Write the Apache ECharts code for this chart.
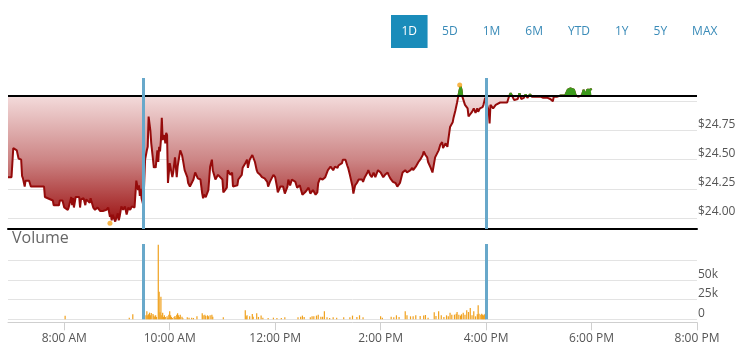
<!DOCTYPE html>
<html><head><meta charset="utf-8">
<script src="https://cdn.jsdelivr.net/npm/echarts@6/dist/echarts.min.js"></script>
<style>html,body{margin:0;padding:0;background:#fff}#c{width:747px;height:358px}</style>
</head><body><div id="c"></div>
<script>
// ---------- data ----------
const rangeButtons = ['1D','5D','1M','6M','YTD','1Y','5Y','MAX'];
const selectedRange = '1D';
const xRange = ['06:56','20:00'];
const xTickTimes = ['08:00','10:00','12:00','14:00','16:00','18:00','20:00'];
const priceRange = [23.906, 25.2];
const priceGridTicks = [24.00, 24.25, 24.50, 24.75, 25.00];
const priceLabelTicks = [24.00, 24.25, 24.50, 24.75];
const volumeRange = [0, 96000];
const volumeGridTicks = [0, 25000, 50000, 75000];
const volumeLabelTicks = [0, 25000, 50000];
const previousClose = 25.045;
const sessionMarks = ['09:30','16:00'];
const dayExtremes = [['08:52', 23.955], ['15:30', 25.14]];

const pricePoints = [
['06:56',24.35],['07:00',24.35],['07:02',24.60],['07:04',24.60],['07:06',24.58],['07:08',24.51],['07:11',24.50],['07:12',24.36],['07:13',24.34],['07:15',24.27],['07:16',24.32],['07:20',24.32],['07:22',24.27],['07:37',24.27],['07:38',24.18],['07:47',24.15],['07:48',24.11],['07:54',24.11],['07:55',24.15],['07:58',24.15],
['08:00',24.09],['08:04',24.07],['08:05',24.09],['08:08',24.18],['08:09',24.11],['08:10',24.17],['08:11',24.09],['08:13',24.18],['08:17',24.18],['08:18',24.09],['08:19',24.16],['08:22',24.17],['08:24',24.11],['08:25',24.16],['08:27',24.15],['08:29',24.13],['08:30',24.17],['08:33',24.09],['08:35',24.07],['08:38',24.09],['08:41',24.06],['08:42',24.07],['08:44',24.06],['08:48',24.07],['08:50',24.09],['08:52',24.01],['08:53',24.03],['08:54',23.98],['08:55',24.03],['08:58',23.97],
['09:00',23.97],['09:01',24.04],['09:02',23.98],['09:03',24.01],['09:05',24.10],['09:07',24.07],['09:09',24.10],['09:11',24.03],['09:13',24.09],['09:15',24.07],['09:17',24.10],['09:19',24.10],['09:20',24.09],['09:22',24.32],['09:24',24.24],['09:25',24.28],['09:26',24.19],['09:27',24.25],['09:28',24.17],['09:30',24.11],
['09:32',24.50],['09:34',24.58],['09:35',24.61],['09:36',24.87],['09:38',24.75],['09:39',24.64],['09:40',24.63],['09:41',24.50],['09:42',24.43],['09:43',24.45],['09:44',24.43],['09:46',24.58],['09:47',24.48],['09:48',24.61],['09:49',24.57],['09:50',24.67],['09:51',24.86],['09:52',24.67],['09:54',24.71],['09:55',24.64],['09:56',24.73],['09:57',24.71],['09:58',24.30],
['10:00',24.47],['10:03',24.35],['10:04',24.39],['10:06',24.52],['10:08',24.35],['10:09',24.44],['10:12',24.58],['10:14',24.54],['10:15',24.50],['10:17',24.41],['10:20',24.35],['10:21',24.30],['10:23',24.27],['10:25',24.28],['10:27',24.33],['10:29',24.39],['10:31',24.39],['10:32',24.34],['10:35',24.33],['10:37',24.21],['10:38',24.17],['10:39',24.20],['10:41',24.18],['10:44',24.24],['10:46',24.44],['10:48',24.50],['10:49',24.41],['10:52',24.33],['10:54',24.33],['10:55',24.37],['10:57',24.37],
['11:00',24.33],['11:01',24.22],['11:03',24.24],['11:05',24.26],['11:06',24.41],['11:09',24.37],['11:11',24.39],['11:12',24.27],['11:14',24.26],['11:17',24.28],['11:18',24.33],['11:20',24.34],['11:22',24.37],['11:23',24.43],['11:26',24.47],['11:28',24.50],['11:29',24.43],['11:31',24.50],['11:34',24.54],['11:35',24.54],['11:37',24.48],['11:39',24.41],['11:40',24.39],['11:43',24.37],['11:45',24.35],['11:46',24.35],['11:48',24.34],['11:51',24.31],['11:52',24.27],['11:54',24.31],['11:56',24.34],['11:58',24.37],
['12:00',24.35],['12:02',24.27],['12:03',24.22],['12:06',24.27],['12:08',24.26],['12:09',24.27],['12:11',24.21],['12:14',24.27],['12:15',24.33],['12:17',24.28],['12:19',24.33],['12:20',24.34],['12:23',24.31],['12:25',24.26],['12:26',24.27],['12:28',24.28],['12:31',24.20],['12:32',24.21],['12:34',24.22],['12:36',24.24],['12:38',24.26],['12:40',24.21],['12:42',24.21],['12:43',24.24],['12:46',24.20],['12:48',24.22],['12:49',24.30],['12:51',24.34],['12:54',24.33],['12:55',24.34],['12:57',24.35],['12:59',24.35],
['13:00',24.41],['13:03',24.44],['13:05',24.43],['13:06',24.41],['13:08',24.44],['13:11',24.43],['13:12',24.45],['13:14',24.44],['13:16',24.47],['13:17',24.50],['13:20',24.50],['13:22',24.45],['13:23',24.43],['13:25',24.37],['13:28',24.27],['13:29',24.21],['13:31',24.28],['13:33',24.30],['13:35',24.33],['13:37',24.34],['13:39',24.33],['13:40',24.31],['13:42',24.35],['13:45',24.39],['13:46',24.41],['13:48',24.37],['13:50',24.35],['13:52',24.39],['13:54',24.35],['13:56',24.39],['13:57',24.41],
['14:00',24.39],['14:02',24.39],['14:03',24.35],['14:05',24.37],['14:08',24.39],['14:09',24.37],['14:11',24.34],['14:13',24.33],['14:14',24.31],['14:17',24.30],['14:19',24.27],['14:20',24.26],['14:22',24.30],['14:25',24.39],['14:26',24.39],['14:28',24.41],['14:30',24.39],['14:32',24.39],['14:34',24.41],['14:36',24.43],['14:37',24.41],['14:40',24.44],['14:42',24.45],['14:43',24.48],['14:45',24.50],['14:48',24.54],['14:49',24.57],['14:51',24.54],['14:53',24.52],['14:54',24.48],['14:57',24.43],['14:59',24.39],
['15:00',24.39],['15:02',24.52],['15:06',24.58],['15:08',24.63],['15:10',24.65],['15:11',24.60],['15:14',24.64],['15:16',24.61],['15:17',24.67],['15:19',24.78],['15:22',24.82],['15:23',24.86],['15:25',24.92],['15:27',24.99],['15:28',25.03],['15:30',25.10],['15:31',25.13],['15:32',25.10],['15:33',25.04],['15:34',25.03],['15:36',24.97],['15:39',24.94],['15:40',24.87],['15:42',24.86],['15:44',24.91],['15:46',24.94],['15:48',24.90],['15:50',24.94],['15:51',24.91],['15:53',24.94],['15:56',24.95],['15:57',24.97],['15:59',25.03],
['16:01',24.97],['16:03',24.92],['16:04',24.81],['16:05',24.97],['16:08',24.94],['16:11',24.97],['16:13',24.97],['16:16',24.99],['16:20',24.99],['16:24',24.99],['16:26',25.04],['16:28',25.07],['16:30',25.04],['16:32',25.01],['16:36',25.02],['16:38',25.07],['16:40',25.02],['16:43',25.03],['16:45',25.06],['16:47',25.03],['16:50',25.06],['16:52',25.04],['16:56',25.04],
['17:02',25.04],['17:05',25.03],['17:10',25.03],['17:13',25.02],['17:16',25.00],['17:17',25.04],['17:21',25.04],['17:25',25.05],['17:30',25.05],['17:33',25.10],['17:36',25.11],['17:40',25.10],['17:42',25.05],['17:45',25.04],['17:49',25.05],['17:51',25.10],['17:53',25.05],['17:55',25.10],['17:59',25.10],['18:00',25.11]
];

const volumePoints = [
['08:01',4500],['09:14',2000],['09:18',6400],
['09:33',5100],['09:34',10200],['09:35',5100],['09:36',6400],['09:37',8500],['09:38',5100],['09:39',7900],['09:41',6800],['09:42',4700],['09:43',3400],['09:44',5100],['09:45',3000],['09:47',95000],['09:48',35000],['09:49',9000],['09:50',28700],['09:51',5100],['09:52',8500],['09:53',3000],['09:54',5100],['09:55',3000],['09:57',3800],['09:58',1700],['09:59',5900],
['10:00',10200],['10:01',5100],['10:02',3000],['10:03',1700],['10:05',3000],['10:06',4200],['10:07',1700],['10:08',5900],['10:09',7600],['10:10',5100],['10:11',3000],['10:12',5900],['10:14',3400],['10:15',1300],['10:20',2500],['10:22',2100],['10:25',2100],['10:27',1700],['10:31',3800],['10:37',7600],['10:38',5100],['10:40',5900],['10:41',4200],['10:43',5100],['10:44',3800],['10:46',5100],['10:48',5900],['10:49',3400],
['11:01',2500],['11:26',11400],['11:27',3800],['11:28',5100],['11:31',3800],['11:34',6800],['11:35',3400],['11:39',7600],['11:41',3000],['11:44',4700],['11:46',2100],['11:52',1700],['11:58',2100],
['12:02',1700],['12:07',1700],['12:11',2500],['12:26',2500],['12:29',3400],['12:31',4700],['12:33',3000],['12:40',2500],['12:42',3800],['12:44',3800],['12:47',4700],['12:49',5900],['12:52',3400],['12:54',3400],['12:56',10200],['12:59',2500],
['13:02',1700],['13:06',2500],['13:10',2100],['13:18',2500],['13:25',2500],['13:28',4700],['13:33',3000],['13:36',5100],['13:40',2500],
['14:00',3800],['14:02',2100],['14:12',3400],['14:15',2500],['14:18',5100],['14:21',3000],['14:28',10200],['14:30',5100],['14:34',3800],['14:37',3800],['14:40',5100],['14:45',4200],['14:49',4700],['14:51',5500],['14:54',2100],
['15:01',8900],['15:03',4200],['15:06',10200],['15:09',5100],['15:12',3000],['15:15',5100],['15:17',3800],['15:19',8500],['15:21',5900],['15:24',5900],['15:26',7200],['15:27',9300],['15:29',5900],['15:31',4700],['15:32',6400],['15:34',8500],['15:36',5900],['15:38',11400],['15:40',9300],['15:42',14400],['15:44',5100],['15:46',10200],['15:48',3800],['15:50',6400],['15:51',17800],['15:52',7200],['15:54',5900],['15:55',7200],['15:56',5900],['15:57',5000],['15:58',6000],['15:59',7000]
];

// ---------- helpers ----------
const toMin = s => { const p = s.split(':').map(Number); return p[0] * 60 + p[1]; };
const fmtTime = v => {
  const h = Math.floor(v / 60), m = Math.round(v % 60);
  const ap = h >= 12 ? 'PM' : 'AM';
  let hh = h % 12; if (hh === 0) hh = 12;
  return hh + ':' + String(m).padStart(2, '0') + ' ' + ap;
};
const FONT = '"Open Sans", "DejaVu Sans", sans-serif';
const priceSeriesData = pricePoints.map(p => [toMin(p[0]), p[1]]);
const volumeSeriesData = volumePoints.map(p => [toMin(p[0]), p[1]]);

// ---------- range buttons (flow layout) ----------
const ctx = document.createElement('canvas').getContext('2d');
ctx.font = '12px "Open Sans"';
const btnGraphics = [];
let bx = 391;
rangeButtons.forEach(b => {
  const w = ctx.measureText(b).width + 21;
  if (b === selectedRange) {
    btnGraphics.push({type: 'rect', left: bx, top: 15, shape: {width: w, height: 33}, style: {fill: '#1a8cba'}});
  }
  btnGraphics.push({type: 'text', x: bx + w / 2, y: 32, style: {text: b, fill: b === selectedRange ? '#ffffff' : '#3a8bb8', fontSize: 12, fontFamily: FONT, align: 'center', verticalAlign: 'middle'}});
  bx += w + 4;
});

const chart = echarts.init(document.getElementById('c'), null, {renderer: 'canvas'});
const blueLine = {color: '#68a8ca', width: 3, type: 'solid'};
chart.setOption({
  animation: false,
  backgroundColor: '#fff',
  textStyle: {fontFamily: FONT},
  grid: [
    {left: 8, right: 50, top: 78, height: 151},
    {left: 8, right: 50, top: 244, height: 75.3}
  ],
  xAxis: [
    {gridIndex: 0, type: 'value', min: toMin(xRange[0]), max: toMin(xRange[1]),
     axisLine: {show: true, onZero: false, lineStyle: {color: '#000', width: 2}},
     axisTick: {show: false}, axisLabel: {show: false}, splitLine: {show: false}},
    {gridIndex: 1, type: 'value', min: toMin(xRange[0]), max: toMin(xRange[1]), offset: 3,
     axisLine: {show: true, onZero: false, lineStyle: {color: '#cfcfcf'}},
     axisTick: {show: true, length: 8, lineStyle: {color: '#cfcfcf'}, customValues: xTickTimes.map(toMin)},
     axisLabel: {customValues: xTickTimes.map(toMin), formatter: fmtTime, color: '#555', fontSize: 12, fontFamily: FONT, margin: 10},
     splitLine: {show: false}}
  ],
  yAxis: [
    {gridIndex: 0, type: 'value', position: 'right', min: priceRange[0], max: priceRange[1],
     axisLine: {show: false}, axisTick: {show: false, customValues: priceGridTicks},
     axisLabel: {customValues: priceLabelTicks, formatter: v => '$' + v.toFixed(2), color: '#555', fontSize: 12, fontFamily: FONT, margin: 1, verticalAlign: 'bottom'},
     splitLine: {show: true, lineStyle: {color: '#e3e3e3'}}},
    {gridIndex: 1, type: 'value', position: 'right', min: volumeRange[0], max: volumeRange[1],
     axisLine: {show: false}, axisTick: {show: false, customValues: volumeGridTicks},
     axisLabel: {customValues: volumeLabelTicks, formatter: v => v === 0 ? '0' : (v / 1000) + 'k', color: '#555', fontSize: 12, fontFamily: FONT, margin: 1, verticalAlign: 'bottom'},
     splitLine: {show: true, lineStyle: {color: '#e3e3e3'}}}
  ],
  visualMap: [{
    type: 'piecewise', show: false, seriesIndex: 1, dimension: 1,
    pieces: [
      {gte: priceRange[0] - 1, lte: previousClose, color: 'rgba(255,255,255,0)'},
      {gt: previousClose, lte: priceRange[1] + 1, color: '#3b9a1c'}
    ]
  }],
  series: [
    {type: 'line', xAxisIndex: 0, yAxisIndex: 0, data: priceSeriesData, showSymbol: false, z: 2,
     lineStyle: {color: '#950b0b', width: 2},
     areaStyle: {origin: previousClose, opacity: 1,
       color: new echarts.graphic.LinearGradient(0, 0, 0, 1, [
         {offset: 0, color: '#f9eeee'}, {offset: 0.1, color: '#f1d6d6'}, {offset: 0.55, color: '#cc8484'}, {offset: 1, color: '#9d1414'}])},
     markLine: {silent: true, symbol: ['none', 'none'], label: {show: false}, animation: false,
       data: [{yAxis: previousClose, lineStyle: {color: '#000', width: 2, type: 'solid'}}]
         .concat(sessionMarks.map(t => ({xAxis: toMin(t), lineStyle: blueLine})))}},
    {type: 'line', xAxisIndex: 0, yAxisIndex: 0, data: priceSeriesData, showSymbol: false, z: 3,
     lineStyle: {width: 2}, areaStyle: {origin: previousClose, opacity: 1}},
    {type: 'scatter', xAxisIndex: 0, yAxisIndex: 0, z: 6, symbolSize: 5,
     itemStyle: {color: '#f5a31a'}, data: dayExtremes.map(p => [toMin(p[0]), p[1]])},
    {type: 'bar', xAxisIndex: 1, yAxisIndex: 1, data: volumeSeriesData, barWidth: 1.2,
     itemStyle: {color: '#f0a11e'},
     markLine: {silent: true, symbol: ['none', 'none'], label: {show: false}, animation: false,
       data: sessionMarks.map(t => ({xAxis: toMin(t), lineStyle: blueLine}))}}
  ],
  graphic: btnGraphics.concat([
    {type: 'text', left: 12, top: 230, style: {text: 'Volume', fill: '#666', fontSize: 16, fontFamily: FONT}}
  ])
});
</script>
</body></html>
